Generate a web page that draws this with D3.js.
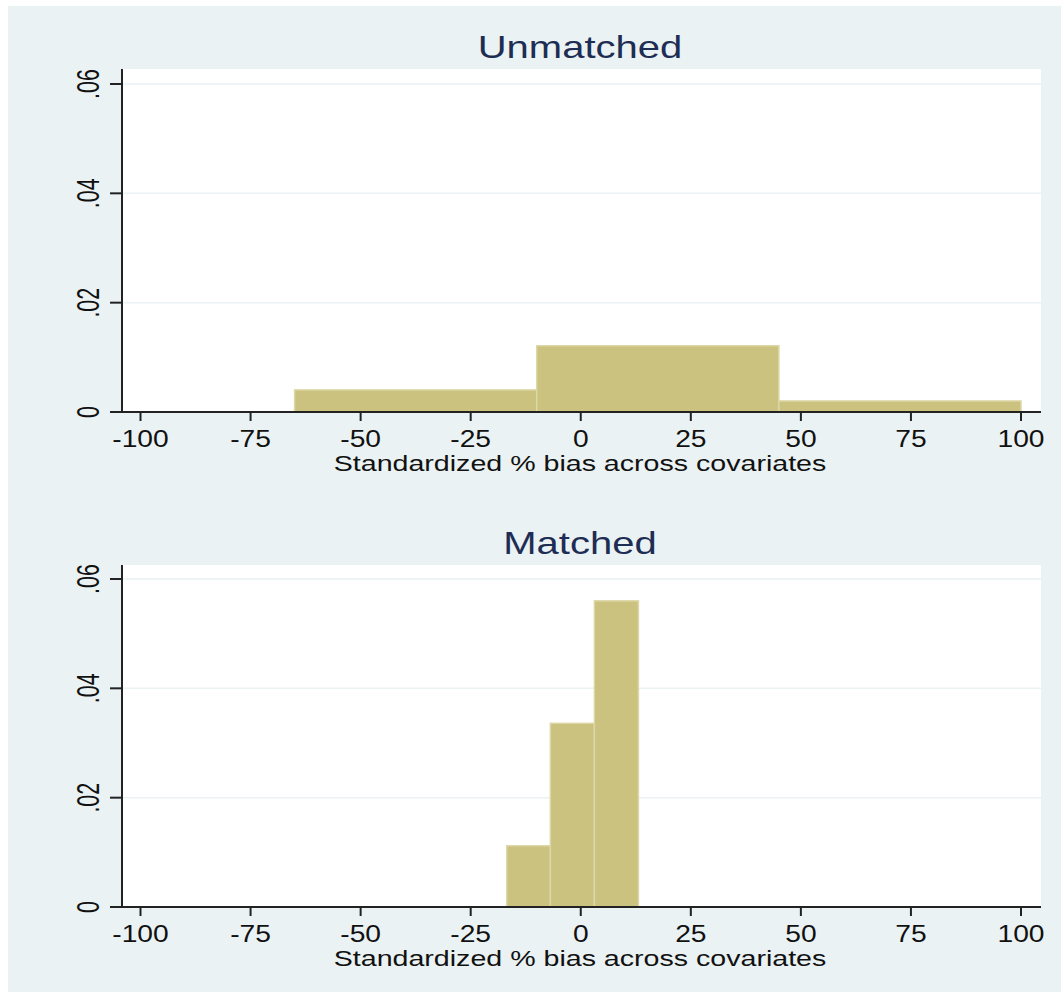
<!DOCTYPE html>
<html><head><meta charset="utf-8">
<script src="https://cdn.jsdelivr.net/npm/d3@7"></script>
<style>body{margin:0;background:#fff;}svg{display:block;}</style>
</head><body>
<script>
const panelTitles = ["Unmatched", "Matched"];
const binEdges = [[-65, -10, 45, 100], [-16.8, -6.9, 3.1, 13.1]];
const densities = [[0.00404, 0.01212, 0.00202], [0.0112, 0.0336, 0.056]];
const xTicks = [-100, -75, -50, -25, 0, 25, 50, 75, 100];
const yTicks = [0, 0.02, 0.04, 0.06];
const yTickLabels = ["0", ".02", ".04", ".06"];
const xAxisTitle = "Standardized % bias across covariates";

const W = 1061, H = 992;
const svg = d3.select("body").append("svg").attr("width", W).attr("height", H);
svg.append("rect").attr("x", 8).attr("y", 6).attr("width", W - 8).attr("height", H - 6).attr("fill", "#EAF2F3");

const font = "'Liberation Sans', Arial, sans-serif";
const panelTop = [69, 565];
const axisYs = [412, 907];
const plotL = 122, plotR = 1041;
const x = d3.scaleLinear().domain([-100, 100]).range([140.5, 1021]);

panelTitles.forEach((title, p) => {
  const ay = axisYs[p];
  const y = d3.scaleLinear().domain([0, 0.06]).range([ay, ay - 328]);
  const g = svg.append("g");
  g.append("rect").attr("x", plotL).attr("y", panelTop[p]).attr("width", plotR - plotL).attr("height", ay - panelTop[p]).attr("fill", "#fff");
  // gridlines
  g.selectAll(".grid").data(yTicks.filter(v => v > 0)).enter().append("line")
    .attr("x1", plotL).attr("x2", plotR).attr("y1", d => y(d)).attr("y2", d => y(d))
    .attr("stroke", "#EAF2F3").attr("stroke-width", 1.5);
  // bars
  const bins = densities[p].map((d, i) => ({x0: binEdges[p][i], x1: binEdges[p][i + 1], d}));
  g.selectAll(".bar").data(bins).enter().append("rect")
    .attr("x", d => x(d.x0)).attr("width", d => x(d.x1) - x(d.x0))
    .attr("y", d => y(d.d)).attr("height", d => ay - y(d.d))
    .attr("fill", "#CAC27E").attr("stroke", "#DCD7A6").attr("stroke-width", 1.5);
  // x axis
  g.append("line").attr("x1", plotL).attr("x2", plotR).attr("y1", ay).attr("y2", ay).attr("stroke", "#222").attr("stroke-width", 2);
  g.selectAll(".xt").data(xTicks).enter().append("line")
    .attr("x1", d => x(d)).attr("x2", d => x(d)).attr("y1", ay).attr("y2", ay + 9)
    .attr("stroke", "#222").attr("stroke-width", 2);
  g.selectAll(".xl").data(xTicks).enter().append("text")
    .attr("transform", d => `translate(${x(d)},${ay + 34.5}) scale(1.2,1)`)
    .attr("text-anchor", "middle").attr("font-family", font).attr("font-size", 23.5).attr("fill", "#111")
    .text(d => d);
  g.append("text").attr("transform", `translate(580,${ay + 58.5}) scale(1.3,1)`)
    .attr("text-anchor", "middle").attr("font-family", font).attr("font-size", 22).attr("fill", "#111")
    .text(xAxisTitle);
  // y axis
  g.append("line").attr("x1", plotL).attr("x2", plotL).attr("y1", panelTop[p]).attr("y2", ay + 1).attr("stroke", "#222").attr("stroke-width", 2);
  g.selectAll(".yt").data(yTicks).enter().append("line")
    .attr("x1", plotL - 12).attr("x2", plotL).attr("y1", d => y(d)).attr("y2", d => y(d))
    .attr("stroke", "#222").attr("stroke-width", 2);
  g.selectAll(".yl").data(yTicks).enter().append("text")
    .attr("transform", d => `translate(99,${y(d)}) scale(1.5,1) rotate(-90)`)
    .attr("text-anchor", "middle").attr("font-family", font).attr("font-size", 21.5).attr("fill", "#111")
    .text((d, i) => yTickLabels[i]);
  // title
  g.append("text").attr("transform", `translate(580,${panelTop[p] - 11}) scale(1.25,1)`)
    .attr("text-anchor", "middle").attr("font-family", font).attr("font-size", 32).attr("fill", "#1E2D53")
    .text(title);
});
</script>
</body></html>
